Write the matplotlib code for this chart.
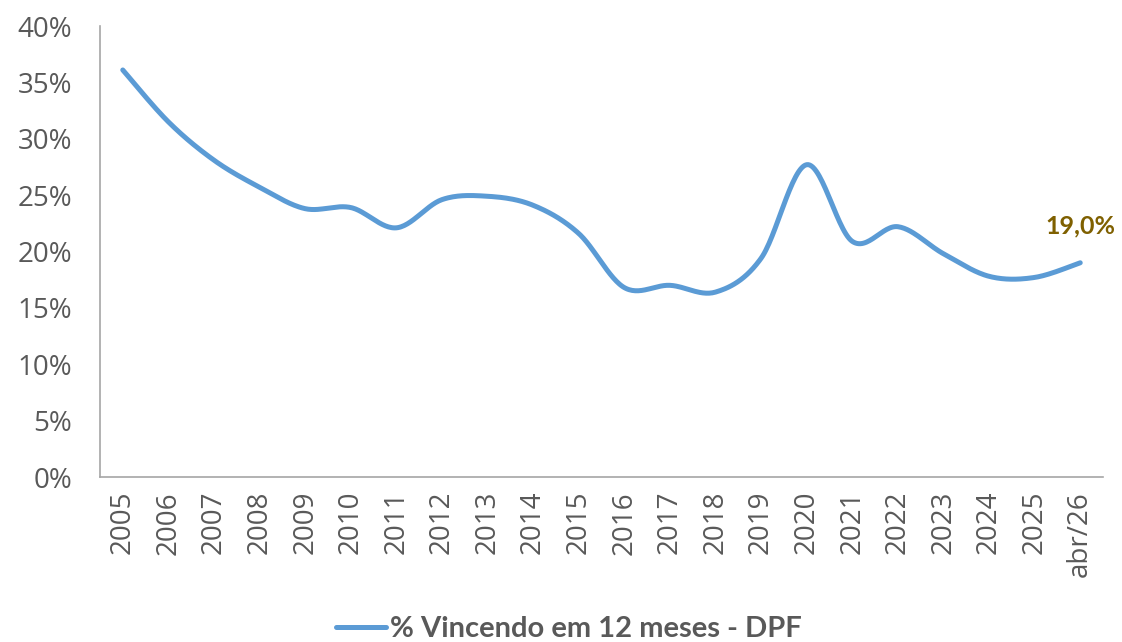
import numpy as np
import matplotlib
matplotlib.use("Agg")
import matplotlib.pyplot as plt

# dados
categorias = ['2005', '2006', '2007', '2008', '2009', '2010', '2011', '2012',
              '2013', '2014', '2015', '2016', '2017', '2018', '2019', '2020',
              '2021', '2022', '2023', '2024', '2025', 'abr/26']
vincendo = [36.1, 31.5, 28.1, 25.7, 23.8, 23.9, 22.1, 24.6, 24.9, 24.1, 21.6,
            16.8, 17.0, 16.4, 19.4, 27.7, 20.9, 22.2, 19.8, 17.8, 17.7, 19.0]
rotulo_final = '19,0%'

cor_linha = '#5B9BD5'
cor_texto = '#595959'
cor_rotulo = '#7F6000'

plt.rcParams['font.family'] = ['Open Sans', 'DejaVu Sans']


def suavizar(x, y, sx=45.6, sy=11.275, n=30):
    # curva suave estilo Excel (Catmull-Rom em coordenadas de tela)
    px = np.asarray(x, float) * sx
    py = np.asarray(y, float) * sy
    P = np.column_stack([px, py])
    P = np.vstack([P[0], P, P[-1]])
    out = []
    for i in range(1, len(P) - 2):
        p0, p1, p2, p3 = P[i - 1], P[i], P[i + 1], P[i + 2]
        c1 = p1 + (p2 - p0) / 6.0
        c2 = p2 - (p3 - p1) / 6.0
        t = np.linspace(0, 1, n)[:, None]
        b = ((1 - t) ** 3) * p1 + 3 * ((1 - t) ** 2) * t * c1 + 3 * (1 - t) * t ** 2 * c2 + t ** 3 * p2
        out.append(b if i == 1 else b[1:])
    out = np.vstack(out)
    return out[:, 0] / sx, out[:, 1] / sy


fig = plt.figure(figsize=(11.22, 6.42), dpi=100)
ax = fig.add_axes([0.0891, 0.257, 0.894, 0.7025])

xi = np.arange(len(categorias))
xs, ys = suavizar(xi, vincendo)
ax.plot(xs, ys, color=cor_linha, lw=3.6, solid_capstyle='round',
        label='% Vincendo em 12 meses - DPF')

ax.annotate(rotulo_final, xy=(xi[-1], vincendo[-1]), xytext=(0, 18),
            textcoords='offset points', ha='center', va='bottom',
            color=cor_rotulo, fontsize=18, fontweight='bold', family=['Lato', 'DejaVu Sans'])

ax.set_xlim(-0.5, len(categorias) - 0.5)
ax.set_ylim(0, 40)
ax.set_yticks(range(0, 41, 5))
ax.set_yticklabels([f'{v}%' for v in range(0, 41, 5)])
ax.set_xticks(xi)
ax.set_xticklabels(categorias, rotation=90)
ax.tick_params(axis='both', length=0, colors=cor_texto, labelsize=20)
ax.tick_params(axis='y', pad=20)
ax.tick_params(axis='x', pad=10)

for s in ['top', 'right']:
    ax.spines[s].set_visible(False)
for s in ['left', 'bottom']:
    ax.spines[s].set_color('#A6A6A6')
    ax.spines[s].set_linewidth(1.2)

leg = fig.legend(loc='center', bbox_to_anchor=(0.507, 0.02), frameon=False,
                 handlelength=1.7, handletextpad=0.15,
                 prop={'weight': 'bold', 'size': 21, 'family': ['Lato', 'DejaVu Sans']})
for t in leg.get_texts():
    t.set_color(cor_texto)

fig.savefig('out.png', dpi=100)
